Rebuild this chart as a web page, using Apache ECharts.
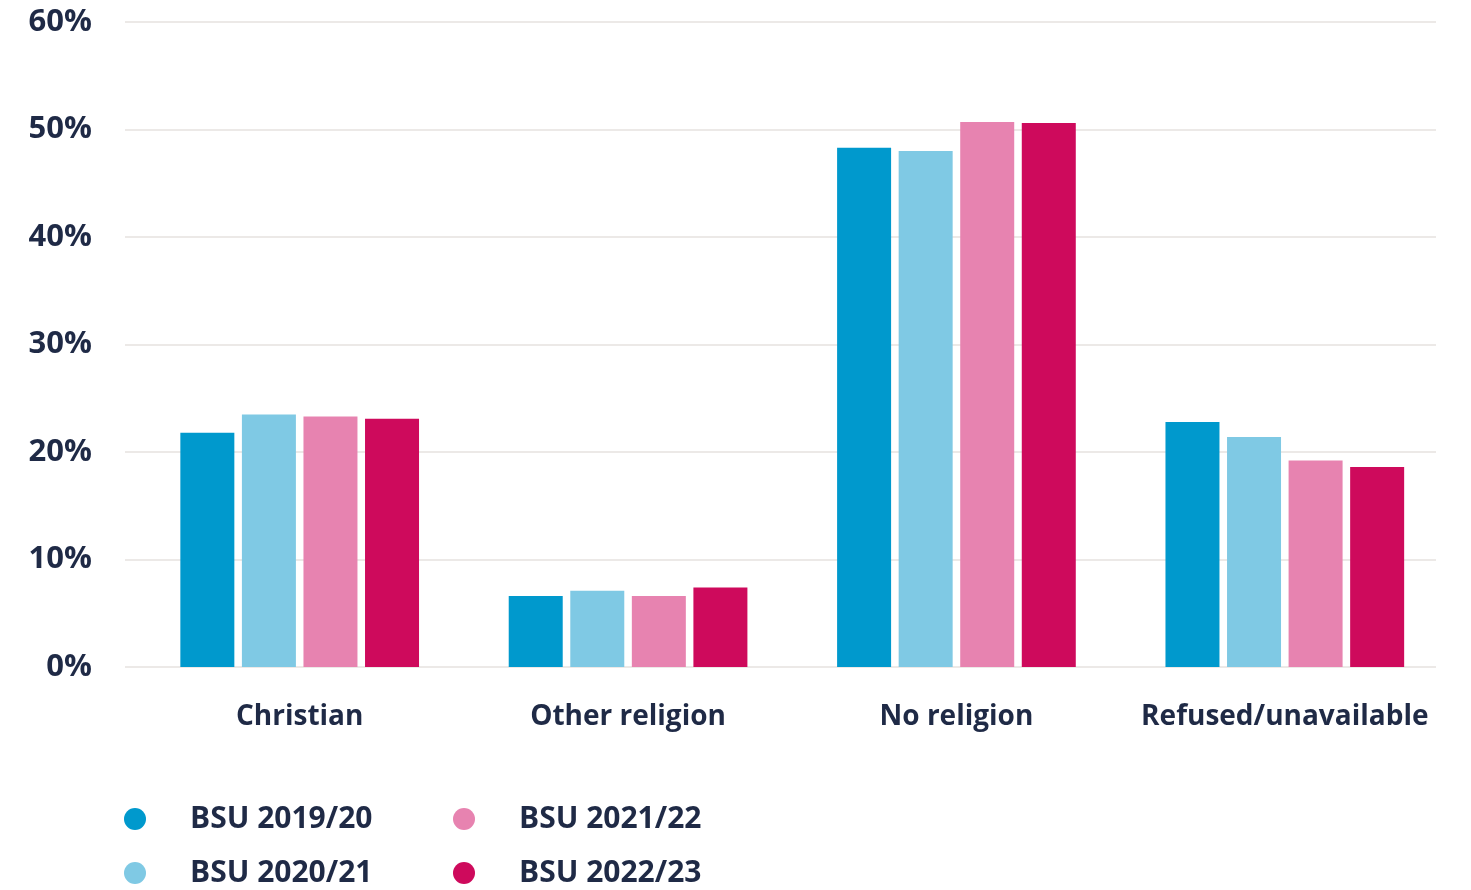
<!DOCTYPE html>
<html>
<head>
<meta charset="utf-8">
<script src="https://cdn.jsdelivr.net/npm/echarts@6/dist/echarts.min.js"></script>
<style>html,body{margin:0;padding:0;background:#fff}#c{width:1471px;height:890px}</style>
</head>
<body>
<div id="c"></div>
<script>
const categories = ['Christian', 'Other religion', 'No religion', 'Refused/unavailable'];
const seriesNames = ['BSU 2019/20', 'BSU 2020/21', 'BSU 2021/22', 'BSU 2022/23'];
const bsu1920 = [21.8, 6.6, 48.3, 22.8];
const bsu2021 = [23.5, 7.1, 48.0, 21.4];
const bsu2122 = [23.3, 6.6, 50.7, 19.2];
const bsu2223 = [23.1, 7.4, 50.6, 18.6];
const yTicks = [0, 10, 20, 30, 40, 50, 60];
const colors = ['#0099CD', '#7FC9E4', '#E783B0', '#CE0A5C'];
const textColor = '#1F2A46';
const font = '"Open Sans", "DejaVu Sans", sans-serif';

const values = [bsu1920, bsu2021, bsu2122, bsu2223];
const legendText = {color: textColor, fontFamily: font, fontWeight: 'bold', fontSize: 30, lineHeight: 30, padding: [0,0,0,39]};
const chart = echarts.init(document.getElementById('c'));
chart.setOption({
  animation: false,
  color: colors,
  grid: [
    {left: 135.5, right: 22, top: 22, bottom: 223},
    {left: 125, right: 35, top: 22, bottom: 223}
  ],
  xAxis: [
    {type: 'category', gridIndex: 0, data: categories,
     axisLine: {show: false}, axisTick: {show: false},
     axisLabel: {interval: 0, color: textColor, fontFamily: font, fontWeight: 'bold', fontSize: 28, lineHeight: 28, margin: 36}},
    {type: 'category', gridIndex: 1, data: categories, show: false}
  ],
  yAxis: [
    {type: 'value', gridIndex: 0, min: yTicks[0], max: yTicks[yTicks.length-1], interval: 10, show: false},
    {type: 'value', gridIndex: 1, min: yTicks[0], max: yTicks[yTicks.length-1], interval: 10,
     axisLine: {show: false}, axisTick: {show: false},
     splitLine: {lineStyle: {color: '#ECE9E7', width: 2}},
     axisLabel: {color: textColor, fontFamily: font, fontWeight: 'bold', fontSize: 31, margin: 33,
       formatter: v => v + '%'}}
  ],
  legend: [
    {data: [seriesNames[0], seriesNames[1]], orient: 'vertical', left: 124, top: 804, padding: 0,
     icon: 'circle', itemWidth: 22, itemHeight: 22, itemGap: 24, textStyle: legendText},
    {data: [seriesNames[2], seriesNames[3]], orient: 'vertical', left: 453, top: 804, padding: 0,
     icon: 'circle', itemWidth: 22, itemHeight: 22, itemGap: 24, textStyle: legendText}
  ],
  series: seriesNames.map((n, i) => ({
    name: n, type: 'bar', xAxisIndex: 0, yAxisIndex: 0,
    data: values[i], barWidth: 54, barGap: '14%',
    itemStyle: {color: colors[i]}
  }))
});
</script>
</body>
</html>
